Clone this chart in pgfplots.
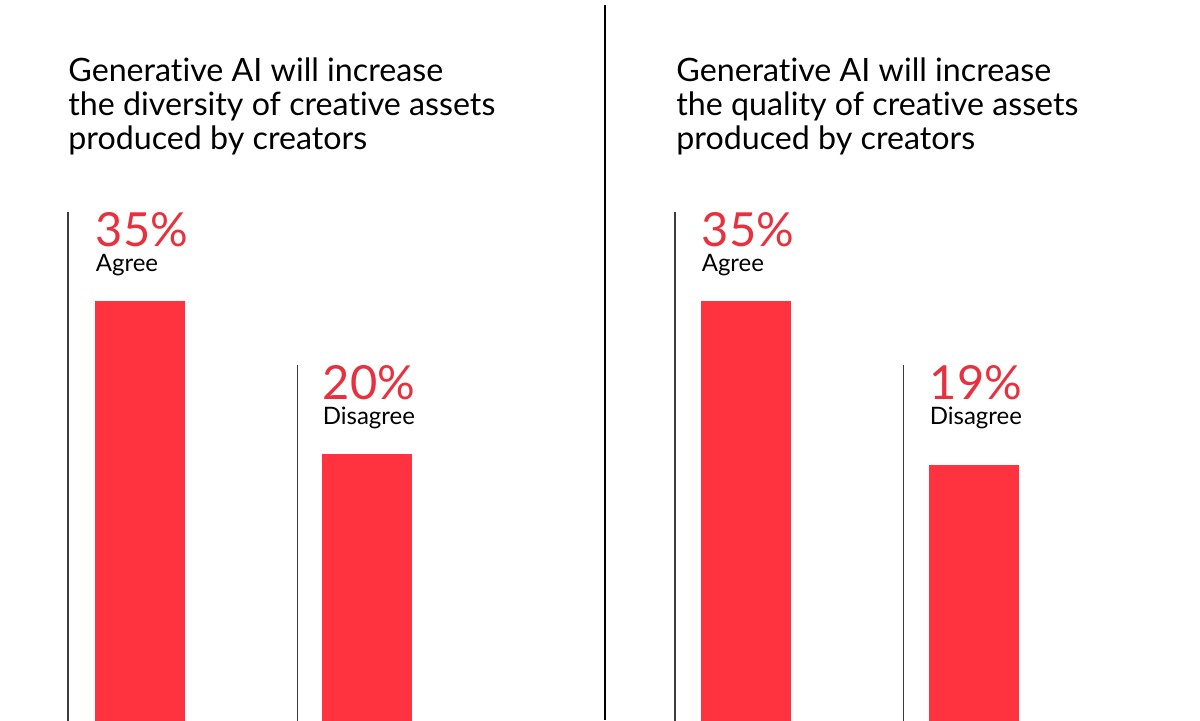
\documentclass[border=0pt]{standalone}
\usepackage{fontspec}
\setmainfont{Lato}[Ligatures=NoCommon]
\usepackage{pgfplots}
\usepackage{pgfplotstable}
\pgfplotsset{compat=1.18}
\definecolor{barred}{RGB}{255,51,64}
\definecolor{txtred}{RGB}{232,49,62}
\definecolor{linegray}{RGB}{60,60,60}

% x: bar position, v: value (%), top: top of the thin guide line, lab: category
\pgfplotstableread{
x v top lab
0 35 43.8 Agree
1 20 28.8 Disagree
}\diversity
\pgfplotstableread{
x v top lab
0 35 43.8 Agree
1 19 28.8 Disagree
}\quality

\pgfplotsset{
  panel/.style={hide axis, scale only axis, width=300pt, height=360pt,
    ymin=-5.98, ymax=64.6, anchor=south west, clip=true,
    /pgf/number format/assume math mode=true},
  barplot/.style={ybar, bar width=44.5pt, bar shift=0pt, fill=barred, draw=barred, line width=0.5pt},
  labnodes/.style={draw=none, point meta=explicit symbolic,
    visualization depends on={\thisrow{v} \as \pct},
    nodes near coords={\vtop{\baselineskip=12.75pt\lineskiplimit=-30pt\lineskip=0pt
        \hbox{\color{txtred}\fontsize{23.5}{26}\selectfont\pgfmathprintnumber[assume math mode=true]{\pct}\%}%
        \hbox{\color{black}\fontsize{12}{14}\selectfont\pgfplotspointmeta}}},
    nodes near coords style={anchor=base west, xshift=-22.3pt, yshift=-17pt, inner sep=0pt}},
  vline/.style={linegray, line width=0.55pt},
}

\begin{document}
\begin{tikzpicture}
\useasboundingbox (0,0) rectangle (600pt,360pt);
% left panel
\begin{axis}[panel, at={(0pt,0pt)}, xmin=-0.6167, xmax=2.026]
  \addplot[barplot] coordinates {(0,-7) (1,-7)};
  \addplot[barplot] table[x=x, y=v] {\diversity};
  \addplot[labnodes] table[x=x, y=top, meta=lab] {\diversity};
  \addplot[vline] coordinates {(-0.317,-7) (-0.317,43.8)};
  \addplot[vline] coordinates {(0.692,-7) (0.692,28.8)};
\end{axis}
% right panel
\begin{axis}[panel, at={(300pt,0pt)}, xmin=-0.640, xmax=1.991]
  \addplot[barplot] coordinates {(0,-7) (1,-7)};
  \addplot[barplot] table[x=x, y=v] {\quality};
  \addplot[labnodes] table[x=x, y=top, meta=lab] {\quality};
  \addplot[vline] coordinates {(-0.311,-7) (-0.311,43.8)};
  \addplot[vline] coordinates {(0.689,-7) (0.689,28.8)};
\end{axis}
% divider
\draw[black, line width=0.75pt] (302.5pt,357.5pt) -- (302.5pt,0pt);
% titles
\node[anchor=north west, inner sep=0pt, align=left, font=\fontsize{16.1}{17}\selectfont]
  at (34pt,331.5pt) {Generative AI will increase\\the diversity of creative assets\\produced by creators};
\node[anchor=north west, inner sep=0pt, align=left, font=\fontsize{16.1}{17}\selectfont]
  at (338pt,331.5pt) {Generative AI will increase\\the quality of creative assets\\produced by creators};
\end{tikzpicture}
\end{document}
